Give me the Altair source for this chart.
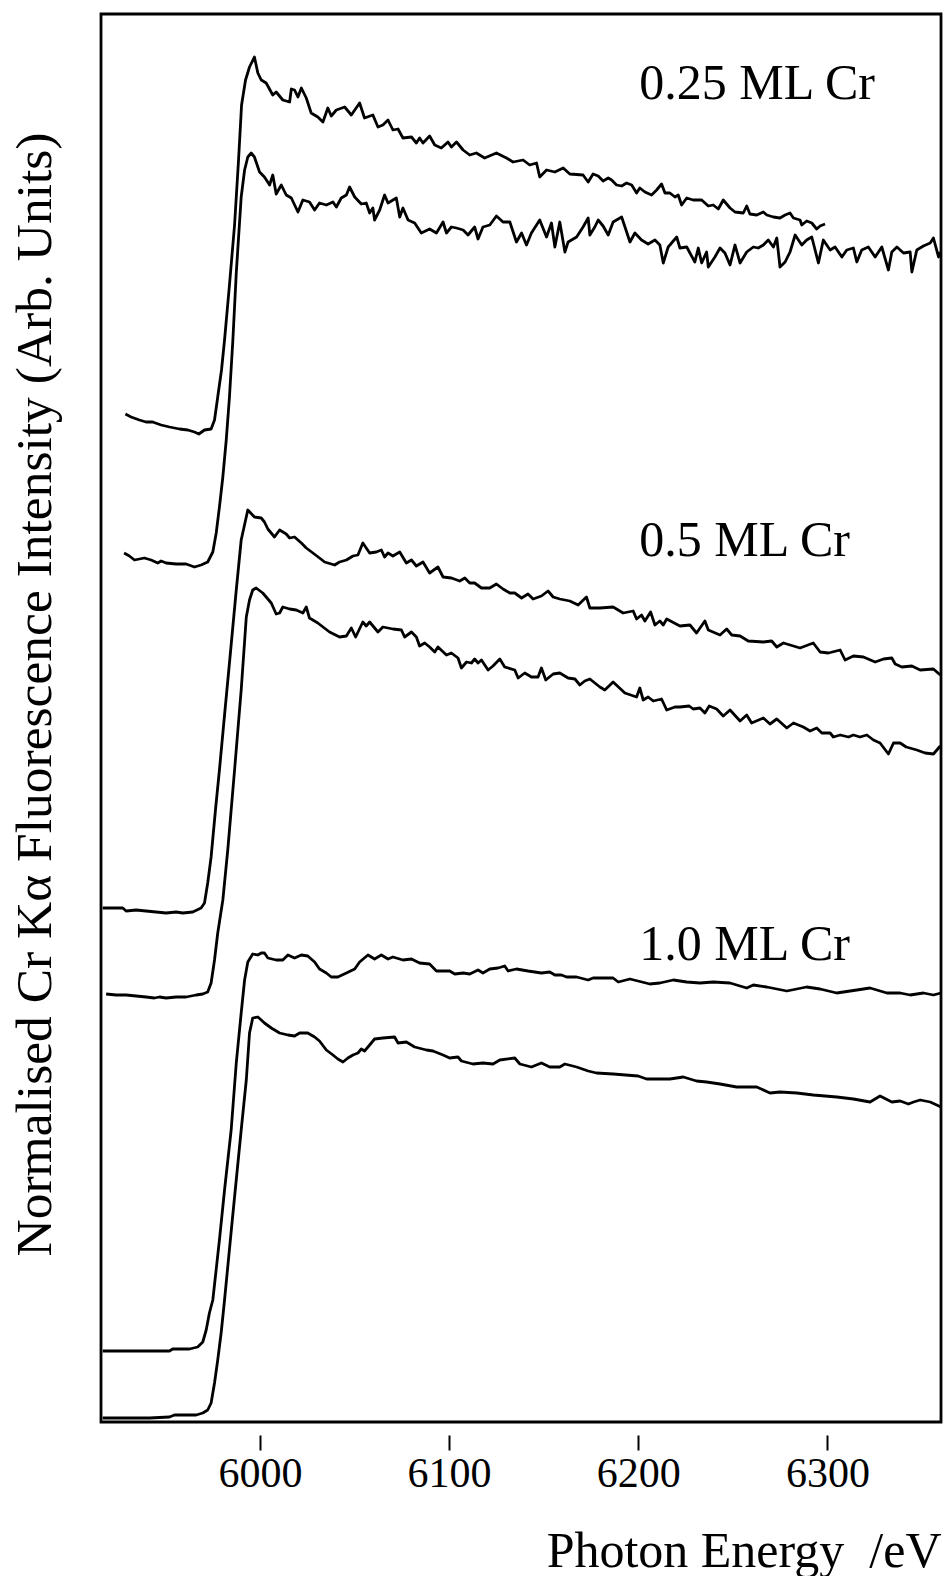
import altair as alt
import pandas as pd

# ---- 0.25 ML Cr, upper spectrum ----
e_025a = [5928.9, 5931.9, 5936.3, 5939.8, 5943.3, 5947.8, 5952.2, 5957.5, 5961.9, 5965.4, 5967.7, 5970.7,
          5974.2, 5976.0, 5977.7, 5979.7, 5981.3, 5983.9, 5986.6, 5988.7, 5990.3, 5992.4, 5994.5, 5997.1,
          5998.9, 6000.7, 6003.3, 6006.8, 6008.6, 6012.1, 6015.7, 6016.6, 6018.3, 6020.1, 6021.9, 6024.5,
          6027.1, 6030.6, 6033.3, 6035.9, 6037.7, 6040.4, 6044.8, 6048.3, 6052.7, 6055.3, 6059.7, 6062.4,
          6065.0, 6067.7, 6070.3, 6073.0, 6075.6, 6080.1, 6082.7, 6084.4, 6086.2, 6089.7, 6092.4, 6095.9,
          6099.4, 6101.2, 6103.9, 6107.4, 6110.9, 6114.4, 6118.8, 6125.0, 6130.3, 6133.8, 6139.1, 6142.6,
          6146.2, 6147.9, 6151.5, 6155.9, 6160.3, 6163.8, 6170.8, 6173.5, 6176.1, 6178.8, 6181.4, 6184.1,
          6185.9, 6188.5, 6191.2, 6193.8, 6196.5, 6199.1, 6200.8, 6203.5, 6207.0, 6209.7, 6212.3, 6214.1,
          6216.7, 6219.4, 6221.1, 6222.9, 6225.6, 6229.0, 6233.5, 6237.0, 6239.6, 6242.3, 6244.9, 6248.5,
          6251.1, 6255.5, 6257.3, 6259.0, 6262.6, 6266.1, 6267.9, 6271.4, 6274.9, 6277.6, 6280.2, 6282.0,
          6285.5, 6286.4, 6289.0, 6291.7, 6294.3, 6296.1, 6298.7]
i_025a = [10.08, 10.05, 10.02, 10.00, 10.00, 9.97, 9.95, 9.93, 9.92, 9.90, 9.88, 9.92,
          9.93, 10.02, 10.25, 10.52, 10.82, 11.37, 11.97, 12.62, 13.17, 13.42, 13.55, 13.65,
          13.49, 13.42, 13.39, 13.27, 13.30, 13.22, 13.20, 13.33, 13.32, 13.25, 13.34, 13.24,
          13.09, 13.05, 13.00, 13.14, 13.06, 13.12, 13.15, 13.07, 13.19, 13.04, 13.07, 12.95,
          12.97, 13.02, 12.92, 12.93, 12.84, 12.85, 12.79, 12.84, 12.79, 12.86, 12.77, 12.74,
          12.80, 12.75, 12.80, 12.72, 12.67, 12.69, 12.64, 12.69, 12.64, 12.60, 12.62, 12.57,
          12.59, 12.45, 12.52, 12.50, 12.54, 12.48, 12.47, 12.40, 12.48, 12.46, 12.41, 12.44,
          12.42, 12.37, 12.36, 12.39, 12.37, 12.29, 12.34, 12.30, 12.27, 12.32, 12.38, 12.29,
          12.29, 12.25, 12.27, 12.17, 12.24, 12.22, 12.22, 12.16, 12.17, 12.13, 12.22, 12.14,
          12.10, 12.09, 12.16, 12.08, 12.07, 12.10, 12.07, 12.05, 12.04, 12.07, 12.09, 12.04,
          12.02, 11.97, 12.01, 11.99, 11.93, 11.96, 11.98]

# ---- 0.25 ML Cr, lower spectrum ----
e_025b = [5928.2, 5931.0, 5933.7, 5938.9, 5942.5, 5946.0, 5947.8, 5950.4, 5955.7, 5961.0, 5965.4, 5968.9,
          5972.4, 5975.1, 5976.9, 5978.6, 5980.4, 5982.2, 5983.9, 5985.7, 5987.5, 5990.1, 5991.9, 5993.6,
          5995.4, 5997.1, 5999.8, 6002.4, 6005.1, 6006.8, 6008.6, 6011.3, 6013.9, 6016.6, 6020.1, 6022.7,
          6026.2, 6028.9, 6031.5, 6035.1, 6038.6, 6040.4, 6043.0, 6045.7, 6047.4, 6050.1, 6053.6, 6056.2,
          6058.0, 6059.7, 6060.6, 6063.3, 6065.9, 6067.7, 6072.1, 6073.9, 6075.6, 6078.3, 6081.8, 6085.3,
          6089.7, 6093.3, 6096.8, 6098.6, 6101.2, 6103.9, 6107.4, 6110.0, 6113.5, 6115.3, 6117.9, 6121.5,
          6125.0, 6128.5, 6132.1, 6135.6, 6138.3, 6140.9, 6143.5, 6147.9, 6151.5, 6154.1, 6155.9, 6158.5,
          6161.2, 6162.9, 6167.4, 6170.8, 6173.5, 6174.4, 6177.0, 6178.8, 6181.4, 6184.1, 6186.7, 6191.2,
          6195.6, 6198.2, 6201.7, 6205.2, 6208.8, 6211.4, 6213.2, 6215.8, 6220.3, 6222.0, 6225.6, 6227.3,
          6229.9, 6231.7, 6233.5, 6236.1, 6237.0, 6240.5, 6243.2, 6245.8, 6248.5, 6251.1, 6253.8, 6257.3,
          6260.8, 6263.4, 6266.1, 6268.7, 6271.4, 6273.2, 6274.9, 6277.6, 6280.2, 6282.9, 6286.4, 6289.0,
          6291.7, 6295.2, 6297.8, 6301.4, 6304.0, 6307.6, 6310.2, 6313.7, 6315.5, 6318.1, 6321.6, 6325.2,
          6328.7, 6332.2, 6334.0, 6336.7, 6340.2, 6343.7, 6344.6, 6347.2, 6350.7, 6354.3, 6356.0, 6358.7,
          6359.6]
i_025b = [8.69, 8.66, 8.62, 8.64, 8.62, 8.59, 8.61, 8.59, 8.58, 8.58, 8.55, 8.57,
          8.60, 8.70, 8.89, 9.15, 9.45, 9.82, 10.25, 10.82, 11.49, 12.25, 12.52, 12.65,
          12.69, 12.65, 12.50, 12.45, 12.37, 12.47, 12.28, 12.37, 12.27, 12.24, 12.10, 12.22,
          12.20, 12.12, 12.19, 12.17, 12.20, 12.15, 12.24, 12.27, 12.35, 12.25, 12.18, 12.19,
          12.09, 12.14, 12.02, 12.12, 12.27, 12.19, 12.24, 12.05, 12.14, 12.02, 11.99, 11.89,
          11.93, 11.89, 12.00, 11.89, 11.95, 11.94, 11.92, 11.87, 11.95, 11.83, 11.95, 11.97,
          12.06, 12.00, 12.00, 11.80, 11.89, 11.77, 11.89, 12.02, 11.85, 11.99, 11.75, 12.00,
          11.70, 11.80, 11.85, 11.95, 12.04, 11.87, 11.95, 12.02, 11.96, 11.87, 12.00, 12.05,
          11.80, 11.89, 11.82, 11.78, 11.82, 11.77, 11.59, 11.75, 11.85, 11.74, 11.75, 11.69,
          11.60, 11.74, 11.59, 11.70, 11.55, 11.65, 11.74, 11.69, 11.57, 11.77, 11.59, 11.70,
          11.75, 11.74, 11.77, 11.82, 11.75, 11.84, 11.55, 11.60, 11.70, 11.87, 11.77, 11.82,
          11.85, 11.59, 11.82, 11.72, 11.75, 11.65, 11.72, 11.74, 11.60, 11.72, 11.75, 11.65,
          11.75, 11.52, 11.70, 11.75, 11.69, 11.70, 11.50, 11.72, 11.76, 11.79, 11.84, 11.65,
          11.70]

# ---- 0.5 ML Cr, upper spectrum ----
e_05a = [5916.9, 5922.2, 5927.5, 5929.3, 5934.6, 5939.8, 5945.1, 5950.4, 5955.7, 5959.2, 5964.5, 5968.9,
         5970.7, 5972.4, 5974.2, 5976.5, 5978.6, 5981.3, 5983.9, 5987.5, 5990.1, 5993.6, 5997.1, 6000.7,
         6002.4, 6004.2, 6007.7, 6010.4, 6013.9, 6015.7, 6018.3, 6021.9, 6024.5, 6028.0, 6031.5, 6034.2,
         6039.5, 6042.1, 6045.7, 6049.2, 6051.8, 6054.4, 6058.0, 6061.5, 6064.2, 6065.9, 6067.7, 6070.3,
         6073.9, 6077.4, 6080.1, 6082.7, 6086.2, 6089.7, 6094.1, 6096.8, 6101.2, 6105.6, 6108.3, 6110.9,
         6113.5, 6117.1, 6121.5, 6125.0, 6128.5, 6132.1, 6134.7, 6138.3, 6141.7, 6144.4, 6148.8, 6152.3,
         6155.0, 6158.5, 6163.8, 6168.2, 6172.6, 6174.4, 6179.7, 6186.7, 6192.0, 6197.3, 6199.1, 6201.7,
         6203.5, 6206.5, 6208.8, 6211.4, 6213.2, 6215.0, 6222.0, 6227.3, 6230.8, 6235.2, 6237.0, 6243.2,
         6246.7, 6249.4, 6253.8, 6258.1, 6266.1, 6270.5, 6273.2, 6276.7, 6285.5, 6292.5, 6296.1, 6300.5,
         6306.7, 6309.3, 6313.7, 6319.0, 6325.2, 6329.6, 6334.0, 6335.8, 6339.3, 6344.6, 6349.0, 6356.0,
         6359.6]
i_05a = [5.14, 5.14, 5.14, 5.11, 5.12, 5.11, 5.10, 5.09, 5.10, 5.09, 5.10, 5.14,
         5.19, 5.39, 5.65, 6.12, 6.52, 7.07, 7.59, 8.32, 8.82, 9.12, 9.05, 9.04,
         9.00, 8.93, 8.85, 8.92, 8.88, 8.84, 8.85, 8.79, 8.74, 8.69, 8.64, 8.60,
         8.57, 8.60, 8.62, 8.66, 8.67, 8.79, 8.69, 8.70, 8.72, 8.65, 8.69, 8.66,
         8.70, 8.59, 8.62, 8.56, 8.60, 8.49, 8.55, 8.45, 8.44, 8.41, 8.44, 8.39,
         8.39, 8.34, 8.34, 8.38, 8.33, 8.29, 8.29, 8.24, 8.28, 8.23, 8.26, 8.31,
         8.25, 8.23, 8.21, 8.17, 8.25, 8.14, 8.14, 8.15, 8.09, 8.11, 8.03, 8.07,
         8.01, 8.10, 7.97, 8.01, 7.97, 8.03, 7.96, 7.97, 7.89, 8.01, 7.92, 7.87,
         7.93, 7.87, 7.86, 7.81, 7.80, 7.81, 7.75, 7.79, 7.74, 7.79, 7.70, 7.69,
         7.72, 7.62, 7.66, 7.65, 7.60, 7.63, 7.64, 7.58, 7.55, 7.56, 7.52, 7.53,
         7.47]

# ---- 0.5 ML Cr, lower spectrum ----
e_05b = [5918.7, 5924.0, 5929.3, 5934.6, 5939.8, 5944.2, 5946.9, 5950.4, 5955.7, 5961.0, 5966.3, 5969.8,
         5972.4, 5974.2, 5976.0, 5977.7, 5980.4, 5983.0, 5986.6, 5990.1, 5992.8, 5994.5, 5996.2, 5998.0,
         6001.5, 6006.0, 6008.6, 6010.4, 6012.1, 6015.7, 6019.2, 6022.7, 6024.5, 6026.2, 6030.6, 6036.8,
         6042.1, 6045.7, 6048.3, 6050.6, 6054.4, 6056.2, 6058.0, 6062.4, 6065.0, 6070.3, 6074.8, 6076.5,
         6080.1, 6082.7, 6084.4, 6087.1, 6089.7, 6092.4, 6094.1, 6098.6, 6101.2, 6104.7, 6106.5, 6109.2,
         6111.8, 6113.5, 6115.3, 6117.1, 6120.6, 6123.2, 6126.8, 6129.4, 6134.7, 6136.5, 6140.0, 6143.5,
         6147.0, 6148.8, 6151.1, 6155.0, 6158.5, 6162.9, 6166.5, 6169.1, 6171.7, 6174.4, 6179.7, 6182.3,
         6186.7, 6192.9, 6199.1, 6200.8, 6202.6, 6205.2, 6207.9, 6212.3, 6215.0, 6219.4, 6222.0, 6226.9,
         6229.0, 6232.6, 6235.2, 6237.5, 6241.4, 6244.9, 6248.5, 6253.8, 6257.3, 6259.9, 6266.1, 6269.6,
         6273.2, 6278.5, 6282.0, 6287.2, 6290.8, 6294.3, 6297.0, 6301.4, 6303.1, 6306.7, 6311.1, 6313.7,
         6317.2, 6320.8, 6324.3, 6327.8, 6332.2, 6334.9, 6338.4, 6341.6, 6347.2, 6351.6, 6356.0, 6359.6]
i_05b = [4.28, 4.27, 4.27, 4.26, 4.25, 4.24, 4.25, 4.24, 4.25, 4.25, 4.27, 4.28,
         4.30, 4.39, 4.62, 4.89, 5.22, 5.72, 6.52, 7.32, 8.05, 8.22, 8.32, 8.34,
         8.29, 8.19, 8.08, 8.09, 8.15, 8.13, 8.12, 8.09, 8.15, 8.04, 7.99, 7.90,
         7.85, 7.86, 7.94, 7.85, 8.00, 7.96, 8.00, 7.90, 7.95, 7.93, 7.92, 7.85,
         7.90, 7.85, 7.76, 7.79, 7.75, 7.70, 7.75, 7.67, 7.69, 7.64, 7.54, 7.60,
         7.59, 7.63, 7.59, 7.62, 7.52, 7.56, 7.63, 7.55, 7.52, 7.44, 7.49, 7.45,
         7.45, 7.54, 7.42, 7.48, 7.49, 7.44, 7.43, 7.37, 7.41, 7.43, 7.35, 7.32,
         7.40, 7.29, 7.25, 7.34, 7.22, 7.25, 7.21, 7.23, 7.12, 7.15, 7.15, 7.16,
         7.13, 7.14, 7.09, 7.16, 7.13, 7.06, 7.12, 7.01, 7.07, 6.99, 7.04, 6.98,
         7.03, 6.94, 6.99, 6.95, 6.91, 6.94, 6.89, 6.89, 6.85, 6.87, 6.85, 6.87,
         6.85, 6.87, 6.82, 6.79, 6.68, 6.79, 6.79, 6.75, 6.72, 6.69, 6.68, 6.76]

# ---- 1.0 ML Cr, upper spectrum ----
e_10a = [5916.9, 5932.8, 5952.2, 5953.9, 5962.8, 5967.1, 5969.8, 5971.6, 5973.3, 5975.1, 5978.6, 5981.3,
         5984.8, 5987.5, 5990.1, 5991.9, 5993.6, 5996.2, 5998.9, 6000.7, 6002.4, 6004.2, 6008.6, 6012.1,
         6014.8, 6018.3, 6021.9, 6025.3, 6028.9, 6031.5, 6035.1, 6037.7, 6041.2, 6045.7, 6050.1, 6052.7,
         6057.1, 6060.6, 6064.2, 6067.7, 6070.3, 6075.6, 6080.1, 6084.4, 6089.7, 6093.3, 6100.3, 6103.0,
         6107.4, 6110.9, 6115.3, 6117.9, 6121.5, 6125.9, 6129.4, 6131.2, 6135.6, 6141.7, 6148.8, 6153.2,
         6155.9, 6159.4, 6162.1, 6167.4, 6173.5, 6176.1, 6186.7, 6189.4, 6195.6, 6206.1, 6211.4, 6218.5,
         6225.6, 6232.6, 6239.6, 6248.5, 6257.3, 6260.8, 6267.9, 6278.5, 6289.0, 6296.1, 6304.9, 6315.5,
         6322.5, 6331.4, 6338.4, 6343.7, 6350.7, 6356.0, 6360.0]
i_10a = [0.71, 0.71, 0.71, 0.73, 0.73, 0.75, 0.80, 0.92, 1.09, 1.22, 1.82, 2.32,
         2.92, 3.59, 4.09, 4.42, 4.60, 4.68, 4.67, 4.69, 4.69, 4.64, 4.62, 4.62,
         4.67, 4.64, 4.67, 4.66, 4.60, 4.53, 4.49, 4.45, 4.45, 4.49, 4.53, 4.60,
         4.67, 4.63, 4.67, 4.63, 4.65, 4.62, 4.63, 4.59, 4.58, 4.51, 4.51, 4.48,
         4.49, 4.48, 4.52, 4.49, 4.53, 4.54, 4.56, 4.51, 4.53, 4.51, 4.49, 4.50,
         4.47, 4.47, 4.45, 4.45, 4.42, 4.44, 4.44, 4.40, 4.43, 4.38, 4.39, 4.42,
         4.40, 4.39, 4.40, 4.39, 4.34, 4.37, 4.35, 4.31, 4.35, 4.33, 4.29, 4.32,
         4.34, 4.29, 4.29, 4.27, 4.29, 4.27, 4.29]

# ---- 1.0 ML Cr, lower spectrum ----
e_10b = [5916.9, 5925.7, 5941.6, 5952.2, 5954.8, 5961.0, 5966.3, 5969.8, 5972.4, 5974.2, 5976.0, 5977.7,
         5979.5, 5981.3, 5985.5, 5990.1, 5992.8, 5994.5, 5996.2, 5998.9, 6000.7, 6002.4, 6006.0, 6010.4,
         6014.8, 6018.3, 6021.0, 6025.3, 6028.9, 6031.5, 6035.1, 6038.6, 6041.2, 6043.9, 6046.5, 6049.2,
         6051.8, 6053.6, 6055.3, 6058.0, 6060.6, 6065.0, 6071.2, 6073.0, 6077.4, 6081.8, 6088.0, 6091.5,
         6096.8, 6100.3, 6104.7, 6106.5, 6112.6, 6117.9, 6123.2, 6126.8, 6134.7, 6137.4, 6143.5, 6148.8,
         6153.2, 6158.5, 6161.2, 6167.4, 6173.5, 6177.9, 6186.7, 6199.9, 6204.4, 6216.7, 6223.8, 6230.8,
         6236.1, 6243.2, 6252.0, 6262.6, 6269.6, 6274.9, 6283.8, 6292.5, 6304.9, 6313.7, 6322.5, 6327.8,
         6334.0, 6338.4, 6342.8, 6345.5, 6349.0, 6354.3, 6360.0]
i_10b = [0.04, 0.04, 0.04, 0.05, 0.07, 0.07, 0.07, 0.09, 0.12, 0.19, 0.39, 0.62,
         0.89, 1.22, 2.04, 2.92, 3.42, 3.89, 4.04, 4.05, 4.02, 3.99, 3.94, 3.89,
         3.87, 3.86, 3.89, 3.89, 3.85, 3.81, 3.72, 3.67, 3.63, 3.60, 3.64, 3.67,
         3.69, 3.73, 3.71, 3.77, 3.83, 3.84, 3.85, 3.79, 3.80, 3.75, 3.72, 3.71,
         3.67, 3.64, 3.65, 3.61, 3.58, 3.59, 3.58, 3.62, 3.64, 3.58, 3.55, 3.59,
         3.55, 3.55, 3.58, 3.55, 3.51, 3.49, 3.48, 3.46, 3.43, 3.43, 3.45, 3.41,
         3.40, 3.38, 3.35, 3.35, 3.29, 3.30, 3.29, 3.27, 3.25, 3.23, 3.20, 3.26,
         3.20, 3.21, 3.18, 3.20, 3.22, 3.20, 3.15]

# ---- annotations ----
label_text = ["0.25 ML Cr", "0.5 ML Cr", "1.0 ML Cr"]
label_energy = [6200.5, 6200.5, 6200.5]
label_intensity = [13.38, 8.81, 4.77]

x_ticks = [6000, 6100, 6200, 6300]

series = [("0.25a", e_025a, i_025a), ("0.25b", e_025b, i_025b),
          ("0.5a", e_05a, i_05a), ("0.5b", e_05b, i_05b),
          ("1.0a", e_10a, i_10a), ("1.0b", e_10b, i_10b)]
rows = []
for name, es, ys in series:
    for k, (e, y) in enumerate(zip(es, ys)):
        rows.append({"series": name, "idx": k, "energy": e, "intensity": y})
df = pd.DataFrame(rows)
lab = pd.DataFrame({"text": label_text, "energy": label_energy, "intensity": label_intensity})

FONT = "Liberation Serif"
xs = alt.Scale(domain=[5916, 6360], nice=False, zero=False)
ys = alt.Scale(domain=[0, 14.08], nice=False, zero=False)

x_axis = alt.Axis(values=x_ticks, format="d", grid=False, domain=False, offset=13,
                  tickSize=15, tickWidth=2, tickColor="black",
                  labelFont=FONT, labelFontSize=42, labelColor="black", labelPadding=3,
                  title="Photon Energy\u00a0\u00a0/eV", titleFont=FONT, titleFontSize=50,
                  titleFontWeight="normal", titleColor="black",
                  titleAlign="right", titleAnchor="end", titleX=840, titleY=116,
                  titleBaseline="middle")
y_axis = alt.Axis(ticks=False, labels=False, domain=False, grid=False,
                  title="Normalised Cr Kα Fluorescence Intensity (Arb. Units)",
                  titleFont=FONT, titleFontSize=51.5, titleFontWeight="normal", titleColor="black",
                  titleAngle=270, titleAlign="center", titleBaseline="middle",
                  titleX=-66, titleY=680)

lines = alt.Chart(df).mark_line(color="black", strokeWidth=2.8, strokeJoin="round").encode(
    x=alt.X("energy:Q", scale=xs, axis=x_axis),
    y=alt.Y("intensity:Q", scale=ys, axis=y_axis),
    detail="series:N",
    order="idx:Q",
)
texts = alt.Chart(lab).mark_text(font=FONT, fontSize=50, align="left", baseline="middle",
                                 color="black").encode(
    x=alt.X("energy:Q", scale=xs),
    y=alt.Y("intensity:Q", scale=ys),
    text="text:N",
)

chart = alt.layer(lines, texts).properties(
    width=840, height=1408,
    autosize=alt.AutoSizeParams(type="none"),
    padding={"left": 101, "top": 14, "right": 3, "bottom": 154},
    background="white",
).configure_view(stroke="black", strokeWidth=2.8)

chart.save("out.html", embed_options={"renderer": "svg", "actions": False})
